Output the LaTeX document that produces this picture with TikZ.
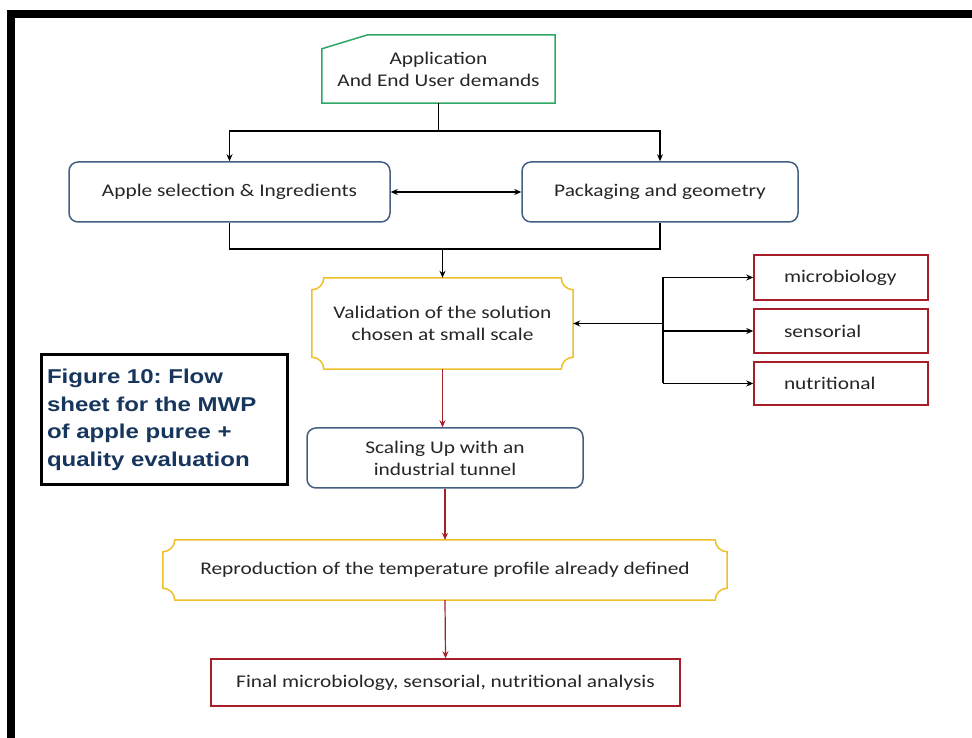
\documentclass[tikz,border=0pt]{standalone}
\usepackage{fontspec}
\setmainfont{Carlito}[FakeStretch=1.2]
\newfontfamily\capfont{Liberation Sans}[FakeStretch=1.2]
\usetikzlibrary{calc,arrows.meta}
\definecolor{cgreen}{RGB}{46,168,100}
\definecolor{cslate}{RGB}{68,96,128}
\definecolor{cyel}{RGB}{240,192,40}
\definecolor{cred}{RGB}{165,30,40}
\definecolor{capblue}{RGB}{23,54,93}
\newcommand{\plaque}[2]{%
  \draw[cyel, line width=1.5pt]
    ($(#1.north west)+(0,-#2)$) arc[start angle=-90,end angle=0,radius=#2]
    -- ($(#1.north east)+(-#2,0)$) arc[start angle=180,end angle=270,radius=#2]
    -- ($(#1.south east)+(0,#2)$) arc[start angle=90,end angle=180,radius=#2]
    -- ($(#1.south west)+(#2,0)$) arc[start angle=0,end angle=90,radius=#2]
    -- cycle;}
\frenchspacing
\begin{document}
\begin{tikzpicture}[x=1pt,y=1pt,
  txt/.style={font=\fontsize{17.8}{22}\selectfont, text=black!85, align=center, inner sep=0pt},
  rbox/.style={txt, draw=cslate, line width=1.5pt, rounded corners=9pt},
  redbox/.style={txt, draw=cred, line width=1.5pt},
  conn/.style={line width=1.2pt},
  arr/.style={conn, -{Stealth[length=7pt,width=6pt]}},
  rarr/.style={arr, draw=cred}
]
\useasboundingbox (0,0) rectangle (972,738);
\fill[white] (0,0) rectangle (972,738);
\fill[black] (7,720) rectangle (972,728);
\fill[black] (7,0) rectangle (15,728);

% application
\node[txt, minimum width=233pt, minimum height=68pt] (app) at (438.5,669) {Application\\And End User demands};
\draw[cgreen, line width=1.5pt] ($(app.north west)+(0,-14)$) -- ($(app.north west)+(46,0)$) -- (app.north east) -- (app.south east) -- (app.south west) -- cycle;

% second row
\node[rbox, minimum width=321pt, minimum height=60pt] (apple) at (229.5,546) {Apple selection \& Ingredients};
\node[rbox, minimum width=276pt, minimum height=60pt] (pack) at (660,546) {Packaging and geometry};

\coordinate (j1) at (app.south |- 0,607);
\draw[conn] (app.south) -- (j1);
\draw[arr] (j1) -| (apple.north);
\draw[arr] (j1) -| (pack.north);
\draw[conn, {Stealth[length=7pt,width=6pt]}-{Stealth[length=7pt,width=6pt]}] (apple.east) -- (pack.west);

% validation
\node[txt, minimum width=261pt, minimum height=91pt] (val) at (442.5,414.5) {Validation of the solution\\chosen at small scale};
\plaque{val}{12}

\coordinate (j2) at (val.north |- 0,489);
\draw[conn] (apple.south) -- (apple.south |- j2) -- (pack.south |- j2) -- (pack.south);
\draw[arr] (j2) -- (val.north);

% evaluation boxes
\node[redbox, text width=114pt, align=left, inner xsep=30pt, minimum height=45pt] (micro) at (841,460.5) {microbiology};
\node[redbox, text width=114pt, align=left, inner xsep=30pt, minimum height=44pt] (sens) at (841,407) {sensorial};
\node[redbox, text width=114pt, align=left, inner xsep=30pt, minimum height=43pt] (nutri) at (841,354.5) {nutritional};

\coordinate (kx) at (663,0);
\draw[conn] (micro.west -| kx) -- (nutri.west -| kx);
\draw[arr] (micro.west -| kx) -- (micro.west);
\draw[arr] (sens.west -| kx) -- (sens.west);
\draw[arr] (nutri.west -| kx) -- (nutri.west);
\draw[arr] (val.east -| kx) -- (val.east);

% scaling
\node[rbox, minimum width=276pt, minimum height=60pt] (scale) at (445,280) {Scaling Up with an\\industrial tunnel};
\draw[rarr] (val.south) -- (val.south |- scale.north);

% reproduction
\node[txt, minimum width=564pt, minimum height=60pt] (repro) at (445,168) {Reproduction of the temperature profile already defined};
\plaque{repro}{12}
\draw[rarr] (scale.south) -- (repro.north);

% final
\node[redbox, minimum width=469pt, minimum height=47pt] (final) at (445.5,55.5) {Final microbiology, sensorial, nutritional analysis};
\draw[rarr] (repro.south) -- (final.north);

% caption
\node[draw=black, line width=3pt, minimum width=246pt, minimum height=130pt, text width=234pt, inner xsep=6pt, align=left, font=\capfont\bfseries\fontsize{20}{27.5}\selectfont, text=capblue] (cap) at (164,318) {Figure 10: Flow\\sheet for the MWP\\of apple puree +\\quality evaluation};
\end{tikzpicture}
\end{document}
